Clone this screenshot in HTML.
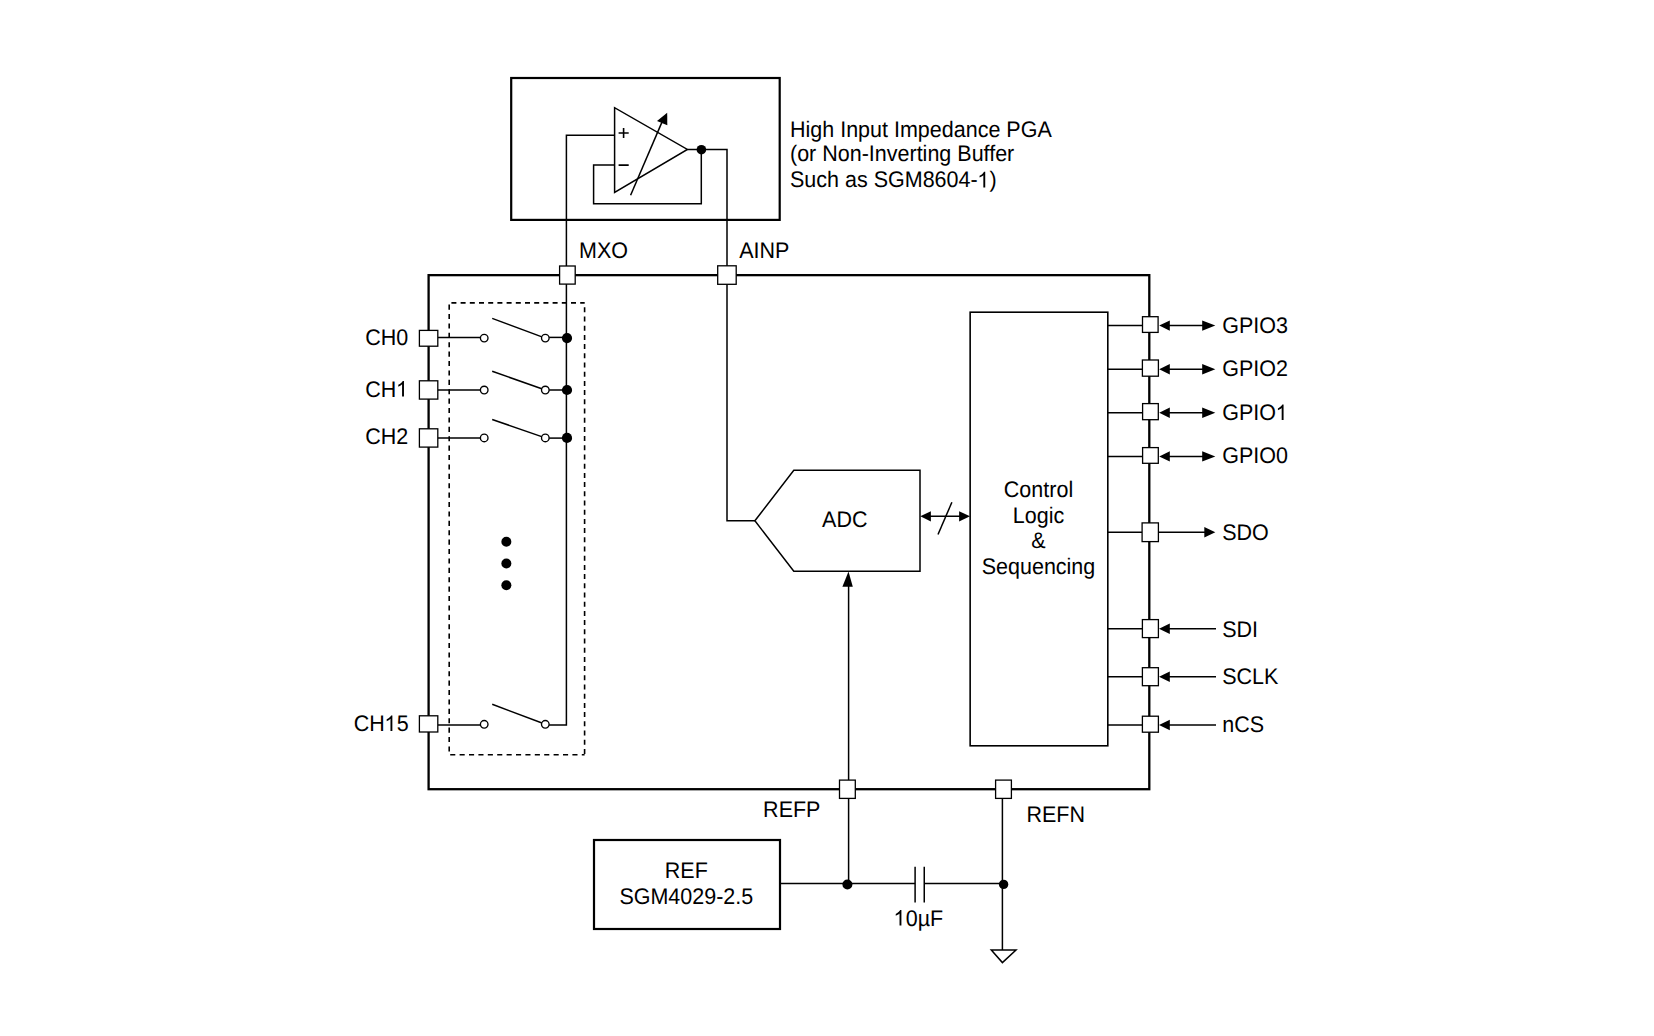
<!DOCTYPE html>
<html><head><meta charset="utf-8"><title>ADC Block Diagram</title>
<style>
html,body{margin:0;padding:0;background:#fff;width:1654px;height:1036px;overflow:hidden}
svg{display:block}
text{font-family:"Liberation Sans",sans-serif;font-size:21.5px;fill:#000;text-rendering:geometricPrecision}
</style></head><body>
<svg width="1654" height="1036" viewBox="0 0 1654 1036">
<rect width="1654" height="1036" fill="#fff"/>
<g fill="none" stroke="#000" stroke-linejoin="miter" stroke-linecap="butt">
<rect x="511.2" y="78" width="268.5" height="141.9" fill="none" stroke-width="2.2"/>
<path d="M566.4,266V135.25H614.6" stroke-width="1.5"/>
<path d="M614.6,165.1H593.6V203.8H701.3V149.6" stroke-width="1.5"/>
<path d="M687.4,149.5H727V266" stroke-width="1.5"/>
<polygon points="614.6,107.7 614.6,192.5 687.4,149.4" fill="#fff" stroke-width="1.5"/>
<path d="M618.6,133H628.7M623.6,128.1V138.1M618.6,165.1H628.7" stroke-width="1.6"/>
<path d="M630.6,195.2L662.6,120.6" stroke-width="1.5"/>
<polygon points="667.2,112.8 657.0,120.9 667.3,125.2" fill="#000" stroke="none"/>
<circle cx="701.4" cy="149.7" r="4.8" fill="#000" stroke="none"/>
<rect x="428.6" y="275.15" width="720.7" height="514.05" fill="none" stroke-width="2.3000000000000003"/>
<path d="M451.4,302.9H584.7" stroke-width="1.6" stroke-dasharray="5 4.2"/>
<path d="M584.6,307.3V754.8" stroke-width="1.6" stroke-dasharray="5 4.2"/>
<path d="M449.2,304.6V754.8H584.6" stroke-width="1.6" stroke-dasharray="5.1 4.3"/>
<path d="M566.4,284V725H549" stroke-width="1.5"/>
<path d="M437.8,337.4H480.4" stroke-width="1.5"/>
<path d="M549.1,337.4H566.4" stroke-width="1.5"/>
<path d="M492.2,318.4L545.3,338.1" stroke-width="1.5"/>
<path d="M437.8,390.0H480.4" stroke-width="1.5"/>
<path d="M549.1,390.0H566.4" stroke-width="1.5"/>
<path d="M492.2,371.3L545.3,390.0" stroke-width="1.5"/>
<path d="M437.8,438.1H480.4" stroke-width="1.5"/>
<path d="M549.1,438.1H566.4" stroke-width="1.5"/>
<path d="M492.2,419.5L545.3,437.9" stroke-width="1.5"/>
<path d="M437.8,725.0H480.4" stroke-width="1.5"/>
<path d="M492.2,704.3L545.3,724.3" stroke-width="1.5"/>
<circle cx="484.2" cy="338.1" r="3.8" fill="#fff" stroke-width="1.35"/>
<circle cx="545.3" cy="338.1" r="3.8" fill="#fff" stroke-width="1.35"/>
<circle cx="567.0" cy="338.1" r="5.1" fill="#000" stroke="none"/>
<circle cx="484.2" cy="390.0" r="3.8" fill="#fff" stroke-width="1.35"/>
<circle cx="545.3" cy="390.0" r="3.8" fill="#fff" stroke-width="1.35"/>
<circle cx="567.0" cy="390.0" r="5.1" fill="#000" stroke="none"/>
<circle cx="484.2" cy="437.9" r="3.8" fill="#fff" stroke-width="1.35"/>
<circle cx="545.3" cy="437.9" r="3.8" fill="#fff" stroke-width="1.35"/>
<circle cx="567.0" cy="437.9" r="5.1" fill="#000" stroke="none"/>
<circle cx="484.2" cy="724.3" r="3.8" fill="#fff" stroke-width="1.35"/>
<circle cx="545.3" cy="724.3" r="3.8" fill="#fff" stroke-width="1.35"/>
<circle cx="506.35" cy="541.8" r="5.0" fill="#000" stroke="none"/>
<circle cx="506.35" cy="563.5" r="5.0" fill="#000" stroke="none"/>
<circle cx="506.35" cy="585.2" r="5.0" fill="#000" stroke="none"/>
<path d="M727,284.3V520.8H755" stroke-width="1.5"/>
<polygon points="754.9,520.8 793.8,470.3 920.0,470.3 920.0,571.3 793.8,571.3" fill="none" stroke-width="1.5"/>
<path d="M928,516.3H962" stroke-width="1.5"/>
<path d="M938.0,534.5L951.9,502.2" stroke-width="1.5"/>
<polygon points="920.3,516.3 930.9,511.2 930.9,521.4" fill="#000" stroke="none"/>
<polygon points="970.0,516.3 959.1,511.2 959.1,521.4" fill="#000" stroke="none"/>
<path d="M848.6,780.1V585" stroke-width="1.5"/>
<polygon points="848.5,571.6 842.4,586.8 852.8,586.8" fill="#000" stroke="none"/>
<rect x="970.15" y="312.2" width="137.65" height="433.6" fill="none" stroke-width="1.6"/>
<path d="M1107.8,325.6H1142.3" stroke-width="1.5"/>
<path d="M1166,325.6H1206" stroke-width="1.5"/>
<polygon points="1159.2,325.6 1169.8,320.40000000000003 1169.8,330.8" fill="#000" stroke="none"/>
<polygon points="1215.3,325.6 1202.2,320.40000000000003 1202.2,330.8" fill="#000" stroke="none"/>
<path d="M1107.8,369.3H1142.3" stroke-width="1.5"/>
<path d="M1166,369.3H1206" stroke-width="1.5"/>
<polygon points="1159.2,369.3 1169.8,364.1 1169.8,374.5" fill="#000" stroke="none"/>
<polygon points="1215.3,369.3 1202.2,364.1 1202.2,374.5" fill="#000" stroke="none"/>
<path d="M1107.8,412.8H1142.3" stroke-width="1.5"/>
<path d="M1166,412.8H1206" stroke-width="1.5"/>
<polygon points="1159.2,412.8 1169.8,407.6 1169.8,418.0" fill="#000" stroke="none"/>
<polygon points="1215.3,412.8 1202.2,407.6 1202.2,418.0" fill="#000" stroke="none"/>
<path d="M1107.8,456.4H1142.3" stroke-width="1.5"/>
<path d="M1166,456.4H1206" stroke-width="1.5"/>
<polygon points="1159.2,456.4 1169.8,451.2 1169.8,461.59999999999997" fill="#000" stroke="none"/>
<polygon points="1215.3,456.4 1202.2,451.2 1202.2,461.59999999999997" fill="#000" stroke="none"/>
<path d="M1107.8,532.2H1142.3" stroke-width="1.5"/>
<path d="M1158.5,532.2H1208" stroke-width="1.5"/>
<polygon points="1215.3,532.2 1204.3,527.0 1204.3,537.4000000000001" fill="#000" stroke="none"/>
<path d="M1107.8,628.8H1142.3" stroke-width="1.5"/>
<path d="M1166,628.8H1216" stroke-width="1.5"/>
<polygon points="1159.0,628.8 1169.8,623.5999999999999 1169.8,634.0" fill="#000" stroke="none"/>
<path d="M1107.8,676.7H1142.3" stroke-width="1.5"/>
<path d="M1166,676.7H1216" stroke-width="1.5"/>
<polygon points="1159.0,676.7 1169.8,671.5 1169.8,681.9000000000001" fill="#000" stroke="none"/>
<path d="M1107.8,725.0H1142.3" stroke-width="1.5"/>
<path d="M1166,725.0H1216" stroke-width="1.5"/>
<polygon points="1159.0,725.0 1169.8,719.8 1169.8,730.2" fill="#000" stroke="none"/>
<rect x="594.0" y="840.0" width="186.0" height="89.0" fill="none" stroke-width="2.2"/>
<path d="M780,883.4H915.1M924.25,883.4H1002.4" stroke-width="1.5"/>
<path d="M915.1,866.8V902.5M924.25,866.8V902.5" stroke-width="1.5"/>
<path d="M848.6,798.4V884.5" stroke-width="1.5"/>
<path d="M1002.4,798.4V950" stroke-width="1.5"/>
<polygon points="991.3,950 1016,950 1002.4,962.6" fill="#fff" stroke-width="1.5"/>
<circle cx="847.4" cy="884.5" r="5.0" fill="#000" stroke="none"/>
<circle cx="1003.6" cy="884.4" r="4.7" fill="#000" stroke="none"/>
<rect x="559.6" y="266.0" width="15.6" height="18.1" fill="#fff" stroke-width="1.3"/>
<rect x="717.7" y="265.8" width="18.5" height="18.5" fill="#fff" stroke-width="1.3"/>
<rect x="419.4" y="330.4" width="18.4" height="15.8" fill="#fff" stroke-width="1.3"/>
<rect x="419.4" y="380.8" width="18.4" height="18.3" fill="#fff" stroke-width="1.3"/>
<rect x="419.4" y="428.8" width="18.4" height="18.3" fill="#fff" stroke-width="1.3"/>
<rect x="419.4" y="715.8" width="18.4" height="16.2" fill="#fff" stroke-width="1.3"/>
<rect x="1142.5" y="316.7" width="15.6" height="15.7" fill="#fff" stroke-width="1.3"/>
<rect x="1142.4" y="360.0" width="16.0" height="16.2" fill="#fff" stroke-width="1.3"/>
<rect x="1142.6" y="403.6" width="15.7" height="16.1" fill="#fff" stroke-width="1.3"/>
<rect x="1142.6" y="447.6" width="15.7" height="15.7" fill="#fff" stroke-width="1.3"/>
<rect x="1142.1" y="522.9" width="16.3" height="18.7" fill="#fff" stroke-width="1.3"/>
<rect x="1142.4" y="619.6" width="16.0" height="18.0" fill="#fff" stroke-width="1.3"/>
<rect x="1142.4" y="667.7" width="16.0" height="18.0" fill="#fff" stroke-width="1.3"/>
<rect x="1142.4" y="716.2" width="16.0" height="16.0" fill="#fff" stroke-width="1.3"/>
<rect x="839.5" y="780.1" width="15.8" height="18.3" fill="#fff" stroke-width="1.3"/>
<rect x="995.6" y="780.1" width="15.8" height="18.3" fill="#fff" stroke-width="1.3"/>
</g>
<g>
<text transform="translate(790,136.7) scale(1,1.05)">High Input Impedance PGA</text>
<text transform="translate(790,161.1) scale(1,1.05)">(or Non-Inverting Buffer</text>
<g transform="translate(790,187.4) scale(1,1.05)"><text>Such as SGM8604- )</text><path transform="translate(187.221,0) scale(0.010498,-0.010089)" d="M763 0L583 0L583 1147Q518 1085 412.5 1023Q307 961 223 930L223 1104Q374 1175 487 1276Q600 1377 647 1472L763 1472Z"/></g>
<text transform="translate(579,257.7) scale(1,1.05)">MXO</text>
<text transform="translate(739.2,257.7) scale(1,1.05)">AINP</text>
<text transform="translate(365.3,344.9) scale(1,1.05)">CH0</text>
<g transform="translate(365.3,396.5) scale(1,1.05)"><text>CH </text><path transform="translate(30.653,0) scale(0.010498,-0.010089)" d="M763 0L583 0L583 1147Q518 1085 412.5 1023Q307 961 223 930L223 1104Q374 1175 487 1276Q600 1377 647 1472L763 1472Z"/></g>
<text transform="translate(365.3,444.2) scale(1,1.05)">CH2</text>
<g transform="translate(353.7,731) scale(1,1.05)"><text>CH 5</text><path transform="translate(30.653,0) scale(0.010498,-0.010089)" d="M763 0L583 0L583 1147Q518 1085 412.5 1023Q307 961 223 930L223 1104Q374 1175 487 1276Q600 1377 647 1472L763 1472Z"/></g>
<text transform="translate(822.1,527) scale(1,1.05)">ADC</text>
<text transform="translate(1038.5,496.6) scale(1,1.05)" text-anchor="middle">Control</text>
<text transform="translate(1038.5,522.6) scale(1,1.05)" text-anchor="middle">Logic</text>
<text transform="translate(1038.5,547.8) scale(1,1.05)" text-anchor="middle">&amp;</text>
<text transform="translate(1038.5,573.5) scale(1,1.05)" text-anchor="middle">Sequencing</text>
<text transform="translate(1222.2,333) scale(1,1.05)">GPIO3</text>
<text transform="translate(1222.2,376.3) scale(1,1.05)">GPIO2</text>
<g transform="translate(1222.2,420.1) scale(1,1.05)"><text>GPIO </text><path transform="translate(53.36,0) scale(0.010498,-0.010089)" d="M763 0L583 0L583 1147Q518 1085 412.5 1023Q307 961 223 930L223 1104Q374 1175 487 1276Q600 1377 647 1472L763 1472Z"/></g>
<text transform="translate(1222.2,463.1) scale(1,1.05)">GPIO0</text>
<text transform="translate(1222.2,539.6) scale(1,1.05)">SDO</text>
<text transform="translate(1222.2,637.1) scale(1,1.05)">SDI</text>
<text transform="translate(1222.2,684.2) scale(1,1.05)">SCLK</text>
<text transform="translate(1222.2,732.05) scale(1,1.05)">nCS</text>
<text transform="translate(763.1,816.9) scale(1,1.05)">REFP</text>
<text transform="translate(1026.4,822) scale(1,1.05)">REFN</text>
<g transform="translate(893.8,925.6) scale(1,1.05)"><text> 0µF</text><path transform="translate(-0.4,0) scale(0.010498,-0.010089)" d="M763 0L583 0L583 1147Q518 1085 412.5 1023Q307 961 223 930L223 1104Q374 1175 487 1276Q600 1377 647 1472L763 1472Z"/></g>
<text transform="translate(686.3,877.6) scale(1,1.05)" text-anchor="middle">REF</text>
<text transform="translate(686.3,903.6) scale(1,1.05)" text-anchor="middle">SGM4029-2.5</text>
</g>
</svg>
</body></html>
